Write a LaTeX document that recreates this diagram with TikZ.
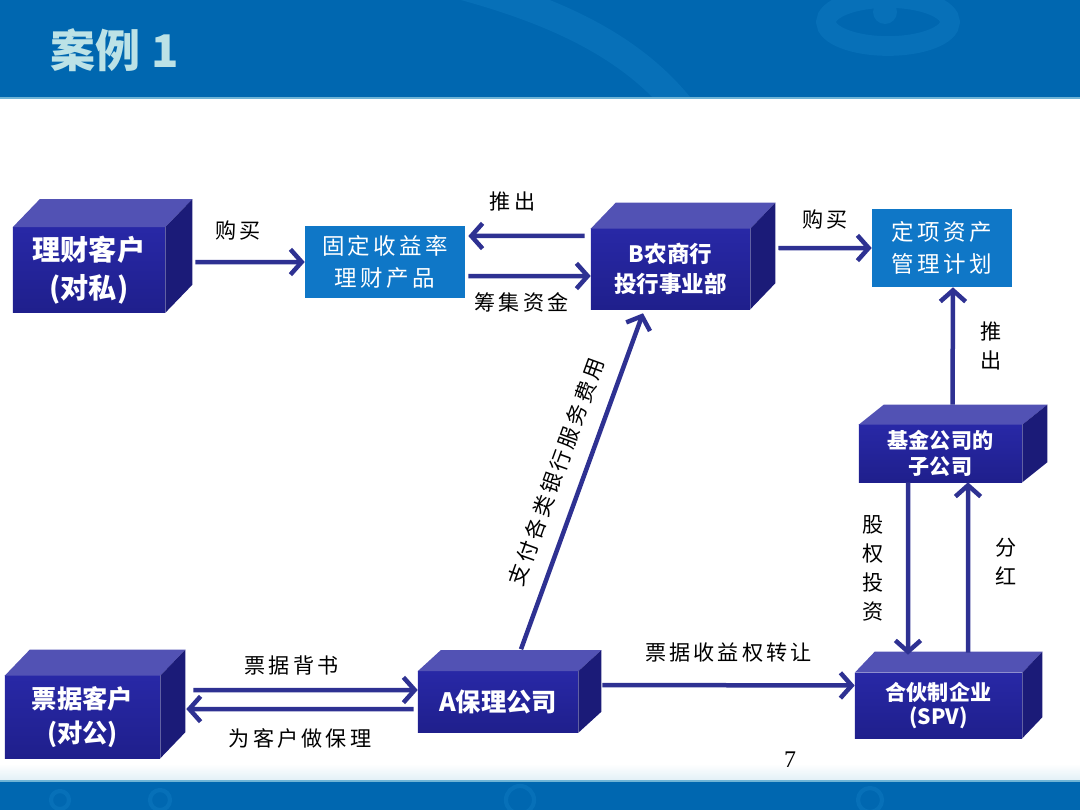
\documentclass[tikz,border=0pt]{standalone}
\usepackage{fontspec}
\setmainfont{Liberation Serif}
\newfontfamily\cjk{Noto Sans CJK SC}
\newfontfamily\lbl[LetterSpace=15]{Noto Sans CJK SC}
\usetikzlibrary{arrows.meta}
\definecolor{band}{HTML}{0067B0}
\definecolor{bandline}{HTML}{6FB4D6}
\definecolor{swirl}{HTML}{0770B8}
\definecolor{titlecol}{HTML}{BCE2E6}
\definecolor{facefront}{HTML}{2828A6}
\definecolor{facelow}{HTML}{1F1F8C}
\definecolor{facetop}{HTML}{5252B4}
\definecolor{faceside}{HTML}{1B1B78}
\definecolor{flatblue}{HTML}{0F77C7}
\definecolor{arrblue}{HTML}{2E3192}

\begin{document}
\begin{tikzpicture}[x=0.025cm, y=-0.025cm,
  box3d/.style={inner sep=0pt, top color=facefront, bottom color=facelow, text=white,
    align=center, font=\cjk\bfseries\fontsize{15}{18}\selectfont},
  flat/.style={fill=flatblue, inner sep=0pt, text=white, align=center,
    font=\lbl\fontsize{16}{23}\selectfont},
  boxtop/.style={fill=facetop},
  boxside/.style={fill=faceside},
  arr/.style={draw=arrblue, line width=3.2pt, -{Straight Barb[length=8pt,width=18pt]}},
  lab/.style={inner sep=0pt, text=black, font=\lbl\fontsize{15}{21}\selectfont, align=center}]
\useasboundingbox (0,0) rectangle (1080,810);

% header and footer bands
\fill[band] (0,0) rectangle (1080,97);
\begin{scope}
\clip (0,0) rectangle (1080,97);
\draw[swirl, line width=20pt] (440,-20) .. controls (560,10) and (640,50) .. (690,120);
\draw[swirl, line width=14pt] (888,22) ellipse (62 and 24);
\fill[swirl] (885,12) circle (12);
\end{scope}
\fill[bandline] (0,97) rectangle (1080,99);
\shade[top color=white, bottom color=bandline!20] (0,764) rectangle (1080,780);
\fill[bandline] (0,780) rectangle (1080,782);
\fill[band] (0,782) rectangle (1080,810);
\begin{scope}
\clip (0,782) rectangle (1080,810);
\foreach \x/\r in {60/9,160/10,520/14,870/12}
\draw[swirl, line width=3pt] (\x,800) circle (\r);
\end{scope}

\node[anchor=west, text=titlecol, font=\cjk\bfseries\fontsize{32}{32}\selectfont] (title) at (46,50) {案例 1};

% boxes
\node[box3d, minimum width=3.8cm, minimum height=2.125cm, font=\cjk\bfseries\fontsize{20}{27}\selectfont] (licai) at (89,270) {理财客户\\(对私)};
\node[box3d, minimum width=3.975cm, minimum height=2cm, font=\cjk\bfseries\fontsize{16}{21}\selectfont] (bnsh) at (670.5,269) {B农商行\\投行事业部};
\node[box3d, minimum width=4.075cm, minimum height=1.425cm] (jijin) at (940.5,453.5) {基金公司的\\子公司};
\node[box3d, minimum width=3.875cm, minimum height=2.05cm, font=\cjk\bfseries\fontsize{18}{24}\selectfont] (piaoju) at (82.5,717) {票据客户\\(对公)};
\node[box3d, minimum width=4cm, minimum height=1.525cm, font=\cjk\bfseries\fontsize{18}{22}\selectfont] (abl) at (498,702) {A保理公司};
\node[box3d, minimum width=4.175cm, minimum height=1.625cm, font=\cjk\bfseries\fontsize{15}{17}\selectfont] (spv) at (938.5,705.5) {合伙制企业\\(SPV)};
\node[flat, minimum width=4cm, minimum height=1.8cm] (guding) at (385,262) {固定收益率\\理财产品};
\node[flat, minimum width=3.5cm, minimum height=1.95cm] (dingxiang) at (942,248) {定项资产\\管理计划};

\foreach \n/\dx/\dy in {licai/27/28,bnsh/25/26,jijin/25/20,piaoju/25/26,abl/23/21,spv/20/21}{
\fill[boxtop] (\n.north west) -- ++(\dx,-\dy) -- ([shift={(\dx,-\dy)}]\n.north east) -- (\n.north east) -- cycle;
\fill[boxside] (\n.north east) -- ++(\dx,-\dy) -- ([shift={(\dx,-\dy)}]\n.south east) -- (\n.south east) -- cycle;
}

% connectors
\draw[arr] ([xshift=0.75cm,yshift=0.2cm]licai.east) -- (guding.west) node[lab, midway, above=14pt, xshift=-0.3cm] (goumai1) {购买};
\draw[arr] ([xshift=-0.15cm,yshift=0.825cm]bnsh.west) -- ([xshift=0.075cm,yshift=0.65cm]guding.east) node[lab, midway, above=16pt, xshift=-0.35cm] (tuichu1) {推出};
\draw[arr] ([xshift=0.075cm,yshift=-0.35cm]guding.east) -- ([yshift=-0.175cm]bnsh.west) node[lab, midway, below=10pt, xshift=-0.2cm] (chouji) {筹集资金};
\draw[arr] ([xshift=0.7cm,yshift=0.525cm]bnsh.east) -- (dingxiang.west) node[lab, midway, above=12pt] (goumai2) {购买};
\draw[arr] ([xshift=0.3cm,yshift=0.5cm]jijin.north) -- ([xshift=0.275cm]dingxiang.south) node[lab, midway, right=18pt, font=\lbl\fontsize{15}{20}\selectfont] (tuichu2) {推\\出};
\draw[arr] ([xshift=-0.8125cm]jijin.south) -- ([xshift=-0.7625cm,yshift=0.45cm]spv.north) node[lab, midway, left=16pt, font=\lbl\fontsize{15}{20.5}\selectfont] (guquan) {股\\权\\投\\资};
\draw[arr] ([xshift=0.7375cm,yshift=0.5cm]spv.north) -- ([xshift=0.6875cm]jijin.south) node[lab, midway, right=18pt, yshift=0.15cm, font=\lbl\fontsize{15}{21}\selectfont] (fenhong) {分\\红};
\draw[arr] ([xshift=0.6cm,yshift=0.425cm]abl.east) -- ([yshift=0.5cm]spv.west) node[lab, midway, above=15pt] (zhuanrang) {票据收益权转让};
\draw[arr] ([xshift=0.825cm,yshift=0.675cm]piaoju.east) -- ([yshift=0.3cm]abl.west) node[lab, midway, above=9pt, xshift=-0.35cm] (beishu) {票据背书};
\draw[arr] ([xshift=-0.1cm,yshift=-0.175cm]abl.west) -- ([xshift=0.65cm,yshift=0.2cm]piaoju.east) node[lab, midway, below=12pt] (baoli) {为客户做保理};
\draw[arr] ([xshift=0.575cm,yshift=0.55cm]abl.north) -- ([xshift=-0.6875cm,yshift=-0.1cm]bnsh.south) node[lab, midway, sloped, above=11pt] (feiyong) {支付各类银行服务费用};

\node[font=\fontsize{17}{17}\selectfont] (pagenum) at (790,760) {7};
\end{tikzpicture}
\end{document}
